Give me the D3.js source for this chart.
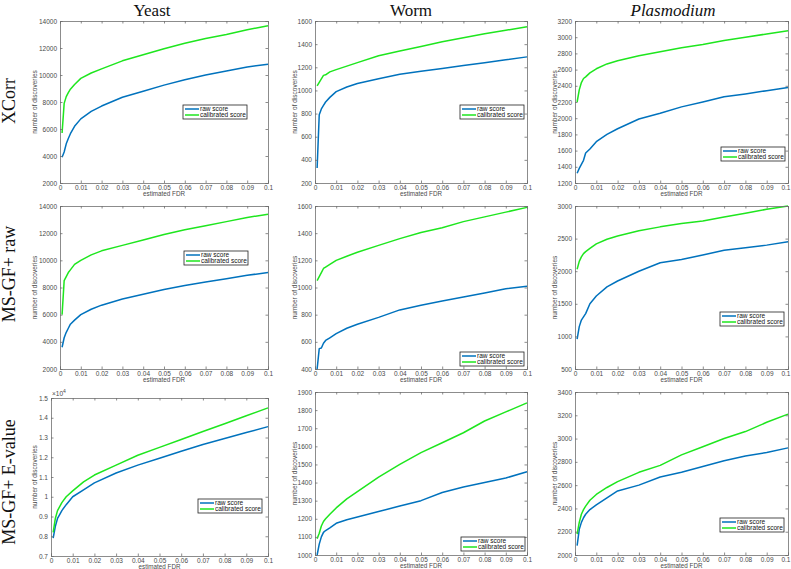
<!DOCTYPE html>
<html><head><meta charset="utf-8">
<script src="https://cdn.jsdelivr.net/npm/d3@7"></script>
<style>
html,body{margin:0;padding:0;background:#fff;}
svg{display:block;}
</style></head>
<body>
<svg id="chart" width="791" height="569"></svg>
<script>
// ---------- DATA ----------
const fdr = [0.001,0.002,0.003,0.004,0.005,0.007,0.01,0.015,0.02,0.03,0.04,0.05,0.06,0.07,0.08,0.09,0.1];
const xTicks = [0,0.01,0.02,0.03,0.04,0.05,0.06,0.07,0.08,0.09,0.1];
const organisms = ["Yeast","Worm","Plasmodium"];
const methods = ["XCorr","MS-GF+ raw","MS-GF+ E-value"];
const seriesNames = ["raw score","calibrated score"];

// Yeast / XCorr
const yeastXcorrRaw = [3900,4300,4900,5300,5650,6200,6750,7300,7700,8350,8800,9250,9650,10000,10300,10600,10800];
const yeastXcorrCal = [5700,7900,8400,8700,8950,9300,9750,10150,10450,11050,11500,11950,12350,12700,13000,13350,13650];
// Worm / XCorr
const wormXcorrRaw = [330,790,840,870,900,940,990,1030,1060,1100,1140,1165,1190,1215,1240,1265,1290];
const wormXcorrCal = [1040,1070,1100,1130,1135,1160,1180,1210,1240,1300,1340,1380,1420,1455,1490,1520,1550];
// Plasmodium / XCorr
const plasXcorrRaw = [1320,1380,1430,1480,1570,1620,1710,1800,1870,1990,2060,2140,2200,2265,2300,2340,2380];
const plasXcorrCal = [2200,2350,2440,2490,2510,2560,2610,2670,2710,2770,2820,2870,2910,2960,3000,3040,3080];
// Yeast / MS-GF+ raw
const yeastRawRaw = [3600,4300,4700,5000,5300,5600,6000,6400,6700,7150,7500,7850,8150,8400,8650,8900,9100];
const yeastRawCal = [6000,8500,8800,9100,9300,9700,10000,10400,10700,11100,11500,11900,12250,12550,12850,13150,13400];
// Worm / MS-GF+ raw
const wormRawRaw = [400,550,555,590,610,630,660,700,730,780,835,870,900,930,960,990,1010];
const wormRawCal = [1050,1080,1110,1140,1150,1170,1200,1230,1260,1310,1360,1405,1440,1485,1520,1555,1590];
// Plasmodium / MS-GF+ raw
const plasRawRaw = [960,1150,1250,1300,1350,1500,1620,1760,1850,2000,2130,2180,2250,2320,2360,2400,2450];
const plasRawCal = [2030,2150,2220,2270,2300,2350,2420,2490,2540,2620,2680,2730,2770,2830,2890,2950,3000];
// Yeast / MS-GF+ E-value
const yeastEvRaw = [7900,8500,8900,9100,9300,9600,10000,10350,10700,11200,11600,11950,12300,12650,12950,13250,13550];
const yeastEvCal = [8200,8900,9300,9500,9700,10000,10300,10750,11100,11600,12100,12500,12900,13300,13700,14100,14500];
// Worm / MS-GF+ E-value
const wormEvRaw = [1000,1060,1100,1125,1135,1150,1175,1195,1210,1240,1270,1300,1345,1375,1400,1425,1460];
const wormEvCal = [1090,1120,1160,1185,1200,1225,1260,1310,1350,1430,1500,1565,1620,1675,1740,1790,1840];
// Plasmodium / MS-GF+ E-value
const plasEvRaw = [2080,2220,2280,2320,2350,2390,2430,2490,2550,2600,2670,2710,2760,2810,2850,2880,2920];
const plasEvCal = [2180,2280,2350,2390,2420,2470,2520,2580,2630,2710,2770,2860,2930,3000,3060,3140,3210];

// y tick values per panel
const yTicksP1 = [2000,4000,6000,8000,10000,12000,14000];
const yTicksP2 = [200,400,600,800,1000,1200,1400,1600];
const yTicksP3 = [1200,1400,1600,1800,2000,2200,2400,2600,2800,3000,3200];
const yTicksP4 = [2000,4000,6000,8000,10000,12000,14000];
const yTicksP5 = [400,600,800,1000,1200,1400,1600];
const yTicksP6 = [500,1000,1500,2000,2500,3000];
const yTicksP7 = [7000,8000,9000,10000,11000,12000,13000,14000,15000];
const yTicksP8 = [1000,1100,1200,1300,1400,1500,1600,1700,1800,1900];
const yTicksP9 = [2000,2200,2400,2600,2800,3000,3200,3400];

// ---------- LAYOUT ----------
const colors = ["#0072BD","#1ee61e"];
const panels = [
  {raw:yeastXcorrRaw, cal:yeastXcorrCal, ticks:yTicksP1, box:[60,21,268,183], leg:[247,105]},
  {raw:wormXcorrRaw,  cal:wormXcorrCal,  ticks:yTicksP2, box:[315,21,527,183], leg:[524,105]},
  {raw:plasXcorrRaw,  cal:plasXcorrCal,  ticks:yTicksP3, box:[575,21,788,183], leg:[785,147]},
  {raw:yeastRawRaw,   cal:yeastRawCal,   ticks:yTicksP4, box:[60,206,268,369], leg:[248,251]},
  {raw:wormRawRaw,    cal:wormRawCal,    ticks:yTicksP5, box:[315,206,527,369], leg:[524,352]},
  {raw:plasRawRaw,    cal:plasRawCal,    ticks:yTicksP6, box:[575,206,788,369], leg:[784,312]},
  {raw:yeastEvRaw,    cal:yeastEvCal,    ticks:yTicksP7, box:[51,398,268,556], leg:[262,499], exp:true},
  {raw:wormEvRaw,     cal:wormEvCal,     ticks:yTicksP8, box:[315,392,527,555], leg:[525,537]},
  {raw:plasEvRaw,     cal:plasEvCal,     ticks:yTicksP9, box:[575,392,788,555], leg:[784,518]},
];

const svg = d3.select("#chart");
const W = 791;
const axisColor = "#6e6e6e";
const textColor = "#4a4a4a";
const fontSans = "'Liberation Sans', Arial, sans-serif";
const fontSerif = "'Liberation Serif', 'DejaVu Serif', serif";

// column titles
const titleX = [152, 411, 673];
organisms.forEach((o,i)=>{
  svg.append("text").attr("x",titleX[i]).attr("y",16)
    .attr("text-anchor","middle").attr("font-family",fontSerif)
    .attr("font-size",17).attr("font-style", i===2?"italic":"normal")
    .attr("fill","#111").text(o);
});
// row labels
const rowY = [101, 274, 482];
methods.forEach((m,i)=>{
  svg.append("text").attr("transform",`translate(15,${rowY[i]}) rotate(-90)`)
    .attr("text-anchor","middle").attr("font-family",fontSerif)
    .attr("font-size",18).attr("fill","#111").text(m);
});

panels.forEach((p,idx)=>{
  const [x0,y0,x1,y1] = p.box;
  const x = d3.scaleLinear().domain([0,0.1]).range([x0,x1]);
  const y = d3.scaleLinear().domain([p.ticks[0], p.ticks[p.ticks.length-1]]).range([y1,y0]);
  const g = svg.append("g");

  // data lines
  const line = d3.line().x((d,i)=>x(fdr[i])).y(d=>y(d));
  [p.raw,p.cal].forEach((s,k)=>{
    g.append("path").datum(s).attr("d",line).attr("fill","none")
      .attr("stroke",colors[k]).attr("stroke-width",1.5).attr("stroke-linejoin","round");
  });

  const fmtY = p.exp ? (d=>d3.format("")(+(d/10000).toFixed(1))) : d3.format("d");
  // axes
  const ax = d3.axisBottom(x).tickValues(xTicks).tickSize(-2.5).tickPadding(3)
      .tickFormat(d=>d===0?"0":d3.format("")(+d.toFixed(2)));
  const axT = d3.axisTop(x).tickValues(xTicks).tickSize(-2.5).tickFormat("");
  const ay = d3.axisLeft(y).tickValues(p.ticks).tickSize(-2.5).tickPadding(3).tickFormat(fmtY);
  const ayR = d3.axisRight(y).tickValues(p.ticks).tickSize(-2.5).tickFormat("");

  const gx = g.append("g").attr("transform",`translate(0,${y1})`).call(ax);
  const gxt = g.append("g").attr("transform",`translate(0,${y0})`).call(axT);
  const gy = g.append("g").attr("transform",`translate(${x0},0)`).call(ay);
  const gyr = g.append("g").attr("transform",`translate(${x1},0)`).call(ayR);
  [gx,gxt,gy,gyr].forEach(a=>{
    a.selectAll(".domain").attr("stroke",axisColor).attr("stroke-width",0.8);
    a.selectAll(".tick line").attr("stroke",axisColor).attr("stroke-width",0.8);
    a.selectAll("text").attr("fill",textColor).attr("font-family",fontSans).attr("font-size",6.5);
  });
  gx.selectAll("text").attr("dy","0.55em");
  // keep the last x tick label inside the page at the right edge
  if (x1 > W - 6) {
    gx.selectAll(".tick").filter(d=>d===0.1).select("text").attr("text-anchor","end").attr("x",W-1-x1);
  }

  // axis labels
  g.append("text").attr("x",(x0+x1)/2).attr("y",y1+12.5).attr("text-anchor","middle")
    .attr("font-family",fontSans).attr("font-size",6.3).attr("fill",textColor).text("estimated FDR");
  const ylx = (idx%3===0)?37:(idx%3===1?297:557);
  g.append("text").attr("transform",`translate(${ylx},${(y0+y1)/2}) rotate(-90)`)
    .attr("text-anchor","middle").attr("font-family",fontSans).attr("font-size",6.5)
    .attr("fill",textColor).text("number of discoveries");

  if(p.exp){
    const t = g.append("text").attr("x",x0+1).attr("y",y0-2).attr("font-family",fontSans)
      .attr("font-size",6.5).attr("fill",textColor);
    t.append("tspan").text("\u00d710");
    t.append("tspan").attr("dy",-3).attr("font-size",5).text("4");
  }

  // legend
  const lw = 64, lh = 14;
  const lx = p.leg[0]-lw, ly = p.leg[1];
  const lg = g.append("g");
  lg.append("rect").attr("x",lx).attr("y",ly).attr("width",lw).attr("height",lh)
    .attr("fill","#fff").attr("stroke","#222").attr("stroke-width",0.8);
  seriesNames.forEach((n,k)=>{
    const yy = ly + 4 + k*6;
    lg.append("line").attr("x1",lx+2).attr("x2",lx+16).attr("y1",yy).attr("y2",yy)
      .attr("stroke",colors[k]).attr("stroke-width",1.5);
    lg.append("text").attr("x",lx+17).attr("y",yy).attr("dy","0.35em")
      .attr("font-family",fontSans).attr("font-size",6.5).attr("fill","#111").text(n);
  });
});
</script>
</body></html>
